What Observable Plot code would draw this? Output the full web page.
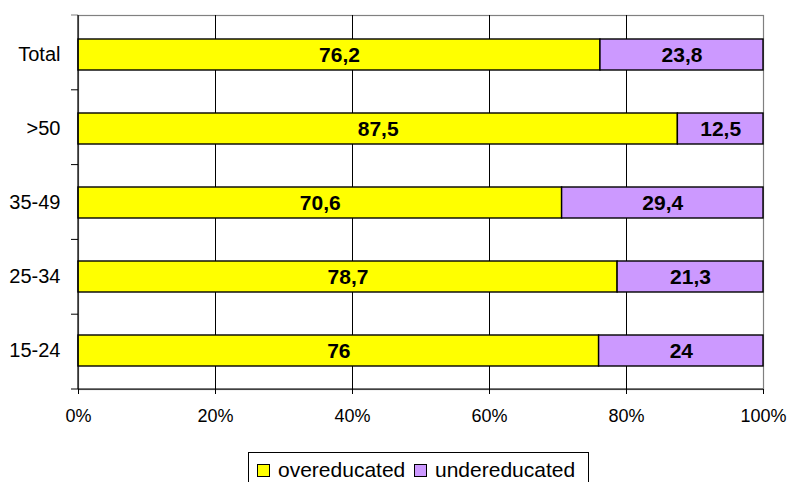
<!DOCTYPE html>
<html>
<head>
<meta charset="utf-8">
<script src="https://cdn.jsdelivr.net/npm/d3@7"></script>
<script src="https://cdn.jsdelivr.net/npm/@observablehq/plot@0.6"></script>
<style>
  body { margin: 0; background: #fff; font-family: "Liberation Sans", Arial, sans-serif; }
  #chart { position: relative; width: 787px; height: 482px; overflow: hidden; }
  .legend {
    position: absolute; left: 248px; top: 452px; width: 341px; height: 40px;
    border: 1px solid #000; box-sizing: border-box; background: #fff;
    font-size: 21px; color: #000; white-space: nowrap;
  }
  .legend .item { position: absolute; top: 0; height: 34px; display: flex; align-items: center; }
  .legend .sw { width: 11px; height: 11px; border: 1px solid #000; margin-right: 8px; }
</style>
</head>
<body>
<div id="chart"></div>
<script>
// Share of mismatched workers by age group (percent of row)
const ageGroups = ["Total", ">50", "35-49", "25-34", "15-24"];
const overeducated = [76.2, 87.5, 70.6, 78.7, 76];
const undereducated = [23.8, 12.5, 29.4, 21.3, 24];
const seriesNames = ["overeducated", "undereducated"];
const seriesColors = ["#ffff00", "#cc99ff"];
const xTicks = [0, 20, 40, 60, 80, 100];

// Stack the two series per age group
const rows = ageGroups.flatMap((g, i) => {
  const a = overeducated[i], b = undereducated[i];
  return [
    {group: g, series: seriesNames[0], value: a, x1: 0, x2: a},
    {group: g, series: seriesNames[1], value: b, x1: a, x2: a + b}
  ];
});

const fmt = v => String(v).replace(".", ",");

const W = 787, H = 445;
const M = {top: 15, right: 24, bottom: 56, left: 78};

// Left-axis ticks between categories plus the axis lines
function categoryTicks(index, scales, values, dims) {
  const g = d3.create("svg:g");
  const n = ageGroups.length;
  const top = dims.marginTop, bottom = dims.height - dims.marginBottom;
  const left = dims.marginLeft, right = dims.width - dims.marginRight;
  const step = (bottom - top) / n;
  for (let k = 0; k <= n; k++) {
    const y = top + k * step;
    g.append("line")
      .attr("x1", left - 7).attr("x2", left)
      .attr("y1", y).attr("y2", y)
      .attr("stroke", k === 0 ? "#808080" : "#000")
      .attr("stroke-width", 1);
  }
  g.append("line")
    .attr("x1", left).attr("x2", right)
    .attr("y1", bottom).attr("y2", bottom)
    .attr("stroke", "#000").attr("stroke-width", 1.2);
  g.append("line")
    .attr("x1", left).attr("x2", left)
    .attr("y1", top).attr("y2", bottom)
    .attr("stroke", "#000").attr("stroke-width", 1.2);
  return g.node();
}

const chart = Plot.plot({
  width: W,
  height: H,
  marginTop: M.top,
  marginRight: M.right,
  marginBottom: M.bottom,
  marginLeft: M.left,
  style: {fontFamily: "'Liberation Sans', Arial, sans-serif", color: "#000", background: "#fff"},
  x: {domain: [0, 100], label: null},
  y: {domain: ageGroups, paddingInner: 0.585, paddingOuter: 0.2925, label: null},
  color: {domain: seriesNames, range: seriesColors},
  marks: [
    Plot.frame({stroke: "#808080", strokeWidth: 1.2}),
    Plot.ruleX(xTicks.filter(t => t > 0 && t < 100), {stroke: "#000", strokeWidth: 1}),
    Plot.barX(rows, {
      x1: "x1", x2: "x2", y: "group", fill: "series",
      stroke: "#000", strokeWidth: 1.4
    }),
    Plot.text(rows, {
      x: d => (d.x1 + d.x2) / 2, y: "group", text: d => fmt(d.value),
      fontSize: 21, fontWeight: "bold", fill: "#000"
    }),
    categoryTicks,
    Plot.axisX({
      ticks: xTicks, tickFormat: d => d + "%", label: null,
      tickSize: 5, tickPadding: 15, fontSize: 18, stroke: "#000"
    }),
    Plot.axisY({tickSize: 0, tickPadding: 18, fontSize: 20, label: null})
  ]
});

const root = document.getElementById("chart");
root.appendChild(chart);

// Legend below the plot
const legend = document.createElement("div");
legend.className = "legend";
const itemLeft = [8, 165];
seriesNames.forEach((name, i) => {
  const item = document.createElement("div");
  item.className = "item";
  item.style.left = itemLeft[i] + "px";
  const sw = document.createElement("span");
  sw.className = "sw";
  sw.style.background = seriesColors[i];
  const label = document.createElement("span");
  label.textContent = name;
  item.appendChild(sw);
  item.appendChild(label);
  legend.appendChild(item);
});
root.appendChild(legend);
</script>
</body>
</html>
